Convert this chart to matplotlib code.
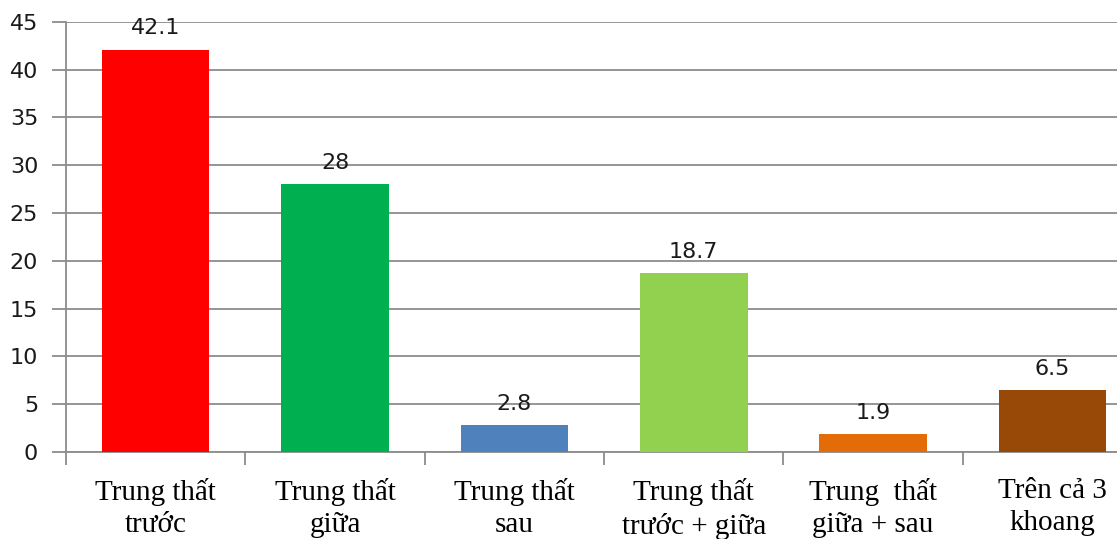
import numpy as np
from matplotlib import pyplot as plt

# 数据
categories = ['Trung thất\ntrước', 'Trung thất\ngiữa', 'Trung thất\nsau',
              'Trung thất\ntrước + giữa', 'Trung  thất\ngiữa + sau', 'Trên cả 3\nkhoang']
values = [42.1, 28, 2.8, 18.7, 1.9, 6.5]
value_labels = ['42.1', '28', '2.8', '18.7', '1.9', '6.5']
colors = ['#FF0000', '#00B050', '#4F81BD', '#92D050', '#E36C09', '#984807']

grid_color = '#8c8c8c'

fig = plt.figure(figsize=(11.17, 5.39), dpi=100)
ax = fig.add_axes([0.0591, 0.1614, 0.9409, 0.798])

x = np.arange(len(categories))
bars = ax.bar(x, values, width=0.6, color=colors, zorder=3)

# 数值标签
for xi, v, lab in zip(x, values, value_labels):
    ax.annotate(lab, (xi, v), xytext=(0, 8), textcoords='offset points',
                ha='center', va='bottom', fontsize=16, color='#1a1a1a',
                family='DejaVu Sans', zorder=4)

ax.set_yticks(np.arange(0, 46, 5))
ax.yaxis.grid(True, color=grid_color, linewidth=1.3, zorder=0)

# 分类边界刻度与居中标签
ax.set_xticks(np.arange(-0.5, 6, 1))
ax.set_xticklabels([])
ax.set_xticks(x, minor=True)
ax.set_xticklabels(categories, minor=True, family='Liberation Serif',
                   fontsize=21, color='black', linespacing=1.3)
ax.set_xlim(-0.5, 5.36)
ax.set_ylim(0, 45)
ax.tick_params(axis='x', which='major', length=9, width=1.3, color=grid_color)
ax.tick_params(axis='x', which='minor', length=0, pad=19)
ax.tick_params(axis='y', length=10, width=1.3, color=grid_color, pad=10,
               labelsize=16, labelcolor='#1a1a1a')
for lab in ax.get_yticklabels():
    lab.set_family('DejaVu Sans')

for s in ['top', 'right']:
    ax.spines[s].set_visible(False)
for s in ['left', 'bottom']:
    ax.spines[s].set_color(grid_color)
    ax.spines[s].set_linewidth(1.3)

plt.savefig('out.png', dpi=100)
